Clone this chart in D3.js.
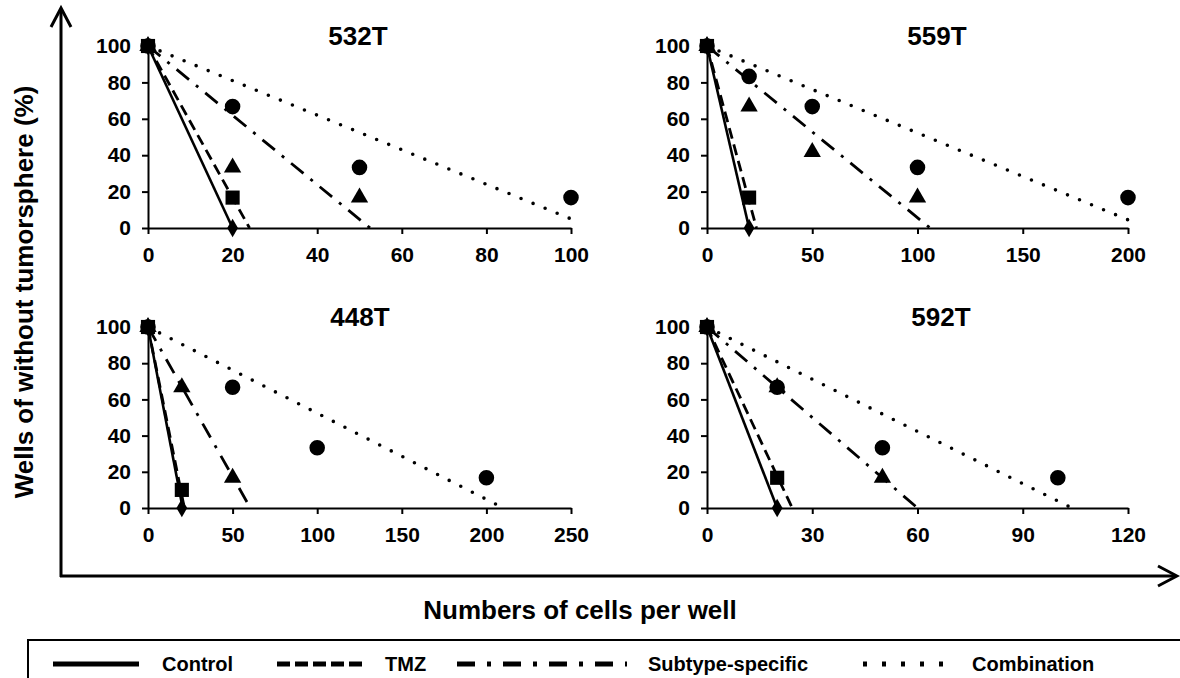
<!DOCTYPE html>
<html>
<head>
<meta charset="utf-8">
<script src="https://cdn.jsdelivr.net/npm/d3@7"></script>
<style>
  body { margin: 0; background: #fff; }
  svg { display: block; font-family: "Liberation Sans", Arial, sans-serif; font-weight: bold; }
</style>
</head>
<body>
<div id="chart"></div>
<script>
// panels
var panelNames = ["532T", "559T", "448T", "592T"];
var xMax = [100, 200, 250, 120];
var xTicks = [[0, 20, 40, 60, 80, 100], [0, 50, 100, 150, 200], [0, 50, 100, 150, 200, 250], [0, 30, 60, 90, 120]];
var yTicks = [0, 20, 40, 60, 80, 100];
var seriesNames = ["Control", "TMZ", "Subtype-specific", "Combination"];

// measured points [cells, % wells without tumorsphere], one list per panel
var controlPts = [[[0, 100], [20, 0]], [[0, 100], [20, 0]], [[0, 100], [20, 0]], [[0, 100], [20, 0]]];
var tmzPts = [[[0, 100], [20, 16.7]], [[0, 100], [20, 16.7]], [[0, 100], [20, 10]], [[0, 100], [20, 16.7]]];
var subtypePts = [[[0, 100], [20, 33.3], [50, 16.7]],
                  [[0, 100], [20, 66.7], [50, 41.7], [100, 16.7]],
                  [[0, 100], [20, 66.7], [50, 16.7]],
                  [[0, 100], [20, 66.7], [50, 16.7]]];
var comboPts = [[[0, 100], [20, 66.7], [50, 33.3], [100, 16.7]],
                [[0, 100], [20, 83.3], [50, 66.7], [100, 33.3], [200, 16.7]],
                [[0, 100], [50, 66.7], [100, 33.3], [200, 16.7]],
                [[0, 100], [20, 66.7], [50, 33.3], [100, 16.7]]];

// trend lines: start and end of each fitted line
var controlFit = [[[0, 100], [20, 0]], [[0, 100], [20, 0]], [[0, 100], [20.5, 0]], [[0, 100], [20, 0]]];
var tmzFit = [[[0, 100], [24, 0]], [[0, 100], [23.5, 0]], [[0, 100], [21.5, 0]], [[0, 100], [24.3, 0]]];
var subtypeFit = [[[0, 100], [52.5, 0]], [[0, 100], [106, 0]], [[0, 100], [60.5, 0]], [[0, 100], [60, 0]]];
var comboFit = [[[0, 100], [100, 5]], [[0, 100], [200, 4.5]], [[0, 100], [210, 0]], [[0, 100], [104, 0]]];

var width = 1180, height = 678;

var svg = d3.select("#chart")
    .append("svg")
    .attr("width", width)
    .attr("height", height);

// panel frames (pixel ranges of each plot)
var xRanges = [[148, 571], [707, 1128], [148, 571], [707, 1128]];
var yRanges = [[228, 46], [228, 46], [508, 327], [508, 327]];
var titleX = [358, 937, 360, 941];

var lineStyles = [
    {dash: null, cap: "butt", w: 2.6},
    {dash: "11,6", cap: "butt", w: 2.8},
    {dash: "16,9,3,9", cap: "butt", w: 2.8},
    {dash: "0,13", cap: "round", w: 3.6}
];
var symbols = [d3.symbolDiamond, d3.symbolSquare, d3.symbolTriangle, d3.symbolCircle];
var symSizes = [100, 200, 130, 190];

panelNames.forEach(function (name, i) {
    var x = d3.scaleLinear().domain([0, xMax[i]]).range(xRanges[i]);
    var y = d3.scaleLinear().domain([0, 100]).range(yRanges[i]);
    var g = svg.append("g");

    g.append("g")
        .attr("transform", "translate(0," + y(0) + ")")
        .call(d3.axisBottom(x).tickValues(xTicks[i]).tickSize(6).tickSizeOuter(0).tickPadding(13))
        .call(styleAxis);

    g.append("g")
        .attr("transform", "translate(" + x(0) + ",0)")
        .call(d3.axisLeft(y).tickValues(yTicks).tickSize(6).tickSizeOuter(0).tickPadding(11))
        .call(styleAxis);

    g.append("text")
        .attr("x", titleX[i])
        .attr("y", yRanges[i][1] - 1)
        .attr("text-anchor", "middle")
        .style("font-size", "26px")
        .text(name);

    var line = d3.line().x(d => x(d[0])).y(d => y(d[1]));
    var fits = [controlFit[i], tmzFit[i], subtypeFit[i], comboFit[i]];
    fits.forEach(function (f, k) {
        g.append("path")
            .attr("d", line(f))
            .attr("fill", "none")
            .attr("stroke", "#000")
            .attr("stroke-width", lineStyles[k].w)
            .attr("stroke-linecap", lineStyles[k].cap)
            .attr("stroke-dasharray", lineStyles[k].dash);
    });

    // markers: combination under, squares on top
    var pts = [controlPts[i], tmzPts[i], subtypePts[i], comboPts[i]];
    [3, 2, 0, 1].forEach(function (k) {
        g.selectAll(".m" + k)
            .data(pts[k])
            .enter()
            .append("path")
            .attr("transform", d => "translate(" + x(d[0]) + "," + y(d[1]) + ")")
            .attr("d", d3.symbol().type(symbols[k]).size(symSizes[k]))
            .attr("fill", "#000");
    });
});

function styleAxis(sel) {
    sel.select(".domain").attr("stroke", "#000").attr("stroke-width", 2);
    sel.selectAll(".tick line").attr("stroke", "#000").attr("stroke-width", 2);
    sel.selectAll(".tick text")
        .attr("fill", "#000")
        .style("font-family", "'Liberation Sans', Arial, sans-serif")
        .style("font-weight", "bold")
        .style("font-size", "21px");
}

// big arrow axes
var ax = svg.append("g").attr("stroke", "#000").attr("stroke-width", 3).attr("fill", "none");
ax.append("path").attr("d", "M61,577 L61,9");
ax.append("path").attr("d", "M51,27 L61,8 L71,27");
ax.append("path").attr("d", "M60,576 L1176,576");
ax.append("path").attr("d", "M1158,566 L1177,576 L1158,586");

svg.append("text")
    .attr("transform", "translate(33,292) rotate(-90)")
    .attr("text-anchor", "middle")
    .style("font-size", "26px")
    .text("Wells of without tumorsphere (%)");

svg.append("text")
    .attr("x", 580)
    .attr("y", 619)
    .attr("text-anchor", "middle")
    .style("font-size", "26px")
    .text("Numbers of cells per well");

// legend
var legend = svg.append("g");
legend.append("path")
    .attr("d", "M28,678 L28,640 L1180,640")
    .attr("fill", "none")
    .attr("stroke", "#000")
    .attr("stroke-width", 2);

var legLines = [[53, 139], [277, 363], [457, 627], [863, 945]];
var legText = [162, 385, 648, 972];
var legDash = [null, "13,5", "18,12,4,12", "4,15"];
seriesNames.forEach(function (s, k) {
    legend.append("line")
        .attr("x1", legLines[k][0]).attr("x2", legLines[k][1])
        .attr("y1", 664).attr("y2", 664)
        .attr("stroke", "#000")
        .attr("stroke-width", 5)
        .attr("stroke-dasharray", legDash[k]);
    legend.append("text")
        .attr("x", legText[k])
        .attr("y", 671)
        .style("font-size", "20px")
        .text(s);
});
</script>
</body>
</html>
